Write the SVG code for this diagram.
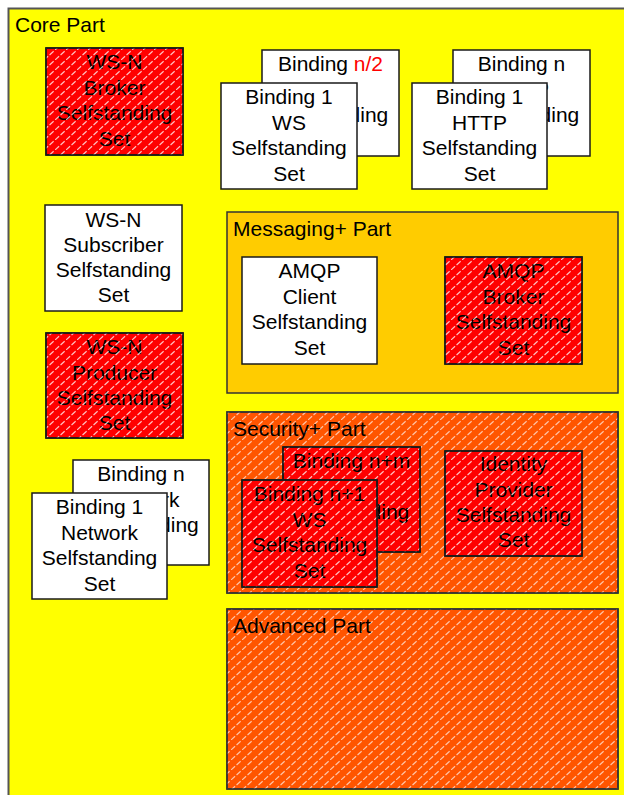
<svg xmlns="http://www.w3.org/2000/svg" width="624" height="795" viewBox="0 0 624 795">
  <defs>
    <!-- diagonal broken white hatching, aligned to the page -->
    <pattern id="hatch" patternUnits="userSpaceOnUse" width="11" height="10">
      <line x1="0" y1="10" x2="11" y2="0" stroke="#ffffff" stroke-width="1.2" stroke-dasharray="5.5 2"/>
    </pattern>
    <style>
      text { font-family: "Liberation Sans", Arial, sans-serif; font-size: 21px; fill: #000; }
      .c { text-anchor: middle; }
      .part { stroke: #333; stroke-width: 1.5; }
      .box { stroke: #1a1a1a; stroke-width: 1.5; }
      .white { fill: #ffffff; }
      .red { fill: #ff0000; }
      .hatch-soft { fill: url(#hatch); stroke: none; opacity: 0.65; }
      .hatch-box { fill: url(#hatch); stroke: none; opacity: 0.75; }
      .edge { fill: none; }
      .hl { fill: #ff0000; }
    </style>
  </defs>

  <!-- outer container -->
  <g id="core-part">
    <rect x="8.5" y="8.5" width="630" height="800" fill="#ffff00" stroke="#555" stroke-width="2"/>
    <text x="15" y="32">Core Part</text>
  </g>

  <g id="ws-n-broker">
    <rect class="box red" x="46" y="48" width="137" height="107"/>
    <text class="c" x="114.5"><tspan x="114.5" y="69">WS-N</tspan><tspan x="114.5" y="95">Broker</tspan><tspan x="114.5" y="120">Selfstanding</tspan><tspan x="114.5" y="146">Set</tspan></text>
    <rect class="hatch-box" x="46" y="48" width="137" height="107"/>
    <rect class="box edge" x="46" y="48" width="137" height="107"/>
  </g>

  <g id="binding-n2-ws">
    <rect class="box white" x="262" y="50" width="137" height="106"/>
    <text class="c" x="330.5"><tspan x="330.5" y="71">Binding <tspan class="hl">n/2</tspan></tspan><tspan x="330.5" y="97">WS</tspan><tspan x="330.5" y="122">Selfstanding</tspan><tspan x="330.5" y="148">Set</tspan></text>
  </g>

  <g id="binding-1-ws">
    <rect class="box white" x="221" y="83" width="136" height="106"/>
    <text class="c" x="289"><tspan x="289" y="104">Binding 1</tspan><tspan x="289" y="130">WS</tspan><tspan x="289" y="155">Selfstanding</tspan><tspan x="289" y="181">Set</tspan></text>
  </g>

  <g id="binding-n-http">
    <rect class="box white" x="453" y="50" width="137" height="106"/>
    <text class="c" x="521.5"><tspan x="521.5" y="71">Binding n</tspan><tspan x="521.5" y="97">HTTP</tspan><tspan x="521.5" y="122">Selfstanding</tspan><tspan x="521.5" y="148">Set</tspan></text>
  </g>

  <g id="binding-1-http">
    <rect class="box white" x="412" y="83" width="135" height="106"/>
    <text class="c" x="479.5"><tspan x="479.5" y="104">Binding 1</tspan><tspan x="479.5" y="130">HTTP</tspan><tspan x="479.5" y="155">Selfstanding</tspan><tspan x="479.5" y="181">Set</tspan></text>
  </g>

  <g id="ws-n-subscriber">
    <rect class="box white" x="45" y="205" width="137" height="106"/>
    <text class="c" x="113.5"><tspan x="113.5" y="227">WS-N</tspan><tspan x="113.5" y="252">Subscriber</tspan><tspan x="113.5" y="277">Selfstanding</tspan><tspan x="113.5" y="302">Set</tspan></text>
  </g>

  <g id="ws-n-producer">
    <rect class="box red" x="46" y="333" width="137" height="105"/>
    <text class="c" x="114.5"><tspan x="114.5" y="354">WS-N</tspan><tspan x="114.5" y="380">Producer</tspan><tspan x="114.5" y="405">Selfstanding</tspan><tspan x="114.5" y="430">Set</tspan></text>
    <rect class="hatch-box" x="46" y="333" width="137" height="105"/>
    <rect class="box edge" x="46" y="333" width="137" height="105"/>
  </g>

  <g id="messaging-part">
    <rect class="part" x="227" y="212" width="391" height="181" fill="#ffcc00"/>
    <text x="233" y="236">Messaging+ Part</text>
  </g>

  <g id="amqp-client">
    <rect class="box white" x="242" y="257" width="135" height="107"/>
    <text class="c" x="309.5"><tspan x="309.5" y="278">AMQP</tspan><tspan x="309.5" y="304">Client</tspan><tspan x="309.5" y="329">Selfstanding</tspan><tspan x="309.5" y="355">Set</tspan></text>
  </g>

  <g id="amqp-broker">
    <rect class="box red" x="445" y="257" width="137" height="107"/>
    <text class="c" x="513.5"><tspan x="513.5" y="278">AMQP</tspan><tspan x="513.5" y="304">Broker</tspan><tspan x="513.5" y="329">Selfstanding</tspan><tspan x="513.5" y="355">Set</tspan></text>
    <rect class="hatch-box" x="445" y="257" width="137" height="107"/>
    <rect class="box edge" x="445" y="257" width="137" height="107"/>
  </g>

  <g id="security-part">
    <rect class="part" x="227" y="412" width="391" height="181" fill="#ff5500"/>
    <rect class="hatch-soft" x="227" y="412" width="391" height="181"/>
    <rect class="part edge" x="227" y="412" width="391" height="181"/>
    <text x="233" y="436">Security+ Part</text>
  </g>

  <g id="binding-nm-ws">
    <rect class="box red" x="283" y="447" width="137" height="105"/>
    <text class="c" x="351.5"><tspan x="351.5" y="468">Binding n+m</tspan><tspan x="351.5" y="494">WS</tspan><tspan x="351.5" y="519">Selfstanding</tspan><tspan x="351.5" y="545">Set</tspan></text>
    <rect class="hatch-box" x="283" y="447" width="137" height="105"/>
    <rect class="box edge" x="283" y="447" width="137" height="105"/>
  </g>

  <g id="binding-n1-ws">
    <rect class="box red" x="242" y="480" width="135" height="107"/>
    <text class="c" x="309.5"><tspan x="309.5" y="501">Binding n+1</tspan><tspan x="309.5" y="527">WS</tspan><tspan x="309.5" y="552">Selfstanding</tspan><tspan x="309.5" y="578">Set</tspan></text>
    <rect class="hatch-box" x="242" y="480" width="135" height="107"/>
    <rect class="box edge" x="242" y="480" width="135" height="107"/>
  </g>

  <g id="identity-provider">
    <rect class="box red" x="445" y="451" width="137" height="105"/>
    <text class="c" x="513.5"><tspan x="513.5" y="471">Identity</tspan><tspan x="513.5" y="497">Provider</tspan><tspan x="513.5" y="522">Selfstanding</tspan><tspan x="513.5" y="547">Set</tspan></text>
    <rect class="hatch-box" x="445" y="451" width="137" height="105"/>
    <rect class="box edge" x="445" y="451" width="137" height="105"/>
  </g>

  <g id="binding-n-network">
    <rect class="box white" x="73" y="460" width="136" height="105"/>
    <text class="c" x="141"><tspan x="141" y="481">Binding n</tspan><tspan x="141" y="507">Network</tspan><tspan x="141" y="532">Selfstanding</tspan><tspan x="141" y="558">Set</tspan></text>
  </g>

  <g id="binding-1-network">
    <rect class="box white" x="32" y="493" width="135" height="106"/>
    <text class="c" x="99.5"><tspan x="99.5" y="514">Binding 1</tspan><tspan x="99.5" y="540">Network</tspan><tspan x="99.5" y="565">Selfstanding</tspan><tspan x="99.5" y="591">Set</tspan></text>
  </g>

  <g id="advanced-part">
    <rect class="part" x="227" y="609" width="391" height="180" fill="#ff5500"/>
    <rect class="hatch-soft" x="227" y="609" width="391" height="180"/>
    <rect class="part edge" x="227" y="609" width="391" height="180"/>
    <text x="233" y="633">Advanced Part</text>
  </g>
</svg>
